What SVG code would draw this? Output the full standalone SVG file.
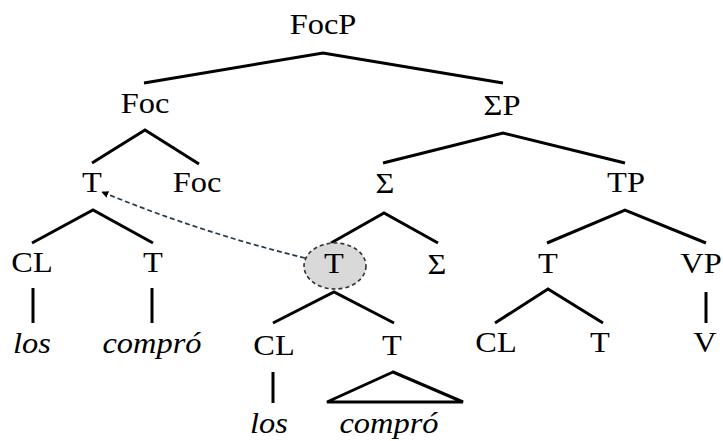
<svg xmlns="http://www.w3.org/2000/svg" width="723" height="441" viewBox="0 0 723 441">
  <style>
    .lbl text { font-size: 30px; fill: #000; text-anchor: middle;
           transform-box: fill-box; transform-origin: center; transform: scaleX(1.08); }
    .lbl text.it { font-style: italic; }
    .edge { stroke: #000; stroke-width: 3; fill: none; stroke-linecap: butt; }
    .move { stroke: #1e3a4c; stroke-width: 1.7; stroke-dasharray: 5 3; fill: none; }
    .copy { fill: #d9d9d9; stroke: #333; stroke-width: 1.6; stroke-dasharray: 4 3; }
  </style>
  <defs>
    <marker id="head" viewBox="0 0 10 10" refX="9" refY="5" markerWidth="7" markerHeight="7" markerUnits="userSpaceOnUse" orient="auto">
      <path d="M0,0 L10,5 L0,10 z" fill="#000"/>
    </marker>
  </defs>
  <rect width="723" height="441" fill="#fff"/>

  <!-- tree branches -->
  <g id="connectors">
    <polyline class="edge" points="144,83 323,53 503,83"/>
    <polyline class="edge" points="92,163 145,130 199,164"/>
    <polyline class="edge" points="383,163 503,133 625,163"/>
    <polyline class="edge" points="32,243 93,210 153,243"/>
    <line class="edge" x1="33" y1="288" x2="33" y2="323"/>
    <line class="edge" x1="152" y1="288" x2="152" y2="323"/>
    <polyline class="edge" points="331,243 384,213 438,243"/>
    <polyline class="edge" points="547,243 625,210 706,243"/>
    <polyline class="edge" points="273,323 334,292 394,323"/>
    <polyline class="edge" points="495,323 548,289 603,323"/>
    <line class="edge" x1="706" y1="292" x2="706" y2="323"/>
    <line class="edge" x1="273" y1="372" x2="273" y2="403"/>
    <polygon class="edge" points="393,372 327,402 463,402"/>
    <!-- head movement -->
    <path class="move" d="M305,258 Q202,233 102,192" marker-end="url(#head)"/>
  </g>

  <g class="lbl" font-family="Liberation Serif, Times New Roman, serif">
    <g id="n-focp"><text x="323" y="34">FocP</text></g>
    <g id="n-foc"><text x="145" y="113">Foc</text></g>
    <g id="n-sigmap"><text x="502" y="115">ΣP</text></g>
    <g id="n-t-foc"><text x="92" y="192">T</text></g>
    <g id="n-foc-head"><text x="197" y="192">Foc</text></g>
    <g id="n-sigma"><text x="385" y="193">Σ</text></g>
    <g id="n-tp"><text x="626" y="192">TP</text></g>
    <g id="n-cl1"><text x="32" y="272">CL</text></g>
    <g id="n-t1"><text x="153" y="272">T</text></g>
    <g id="n-t-copy">
      <ellipse class="copy" cx="335" cy="266" rx="31" ry="23"/>
      <text x="334" y="273">T</text>
    </g>
    <g id="n-sigma-head"><text x="437" y="274">Σ</text></g>
    <g id="n-t2"><text x="548" y="273">T</text></g>
    <g id="n-vp"><text x="701" y="273">VP</text></g>
    <g id="n-los1"><text class="it" x="32" y="353">los</text></g>
    <g id="n-compro1"><text class="it" x="152" y="353">compró</text></g>
    <g id="n-cl2"><text x="274" y="355">CL</text></g>
    <g id="n-t3"><text x="392" y="355">T</text></g>
    <g id="n-cl3"><text x="496" y="352">CL</text></g>
    <g id="n-t4"><text x="600" y="352">T</text></g>
    <g id="n-v"><text x="705" y="352">V</text></g>
    <g id="n-los2"><text class="it" x="269" y="433">los</text></g>
    <g id="n-compro2"><text class="it" x="389" y="433">compró</text></g>
  </g>
</svg>
